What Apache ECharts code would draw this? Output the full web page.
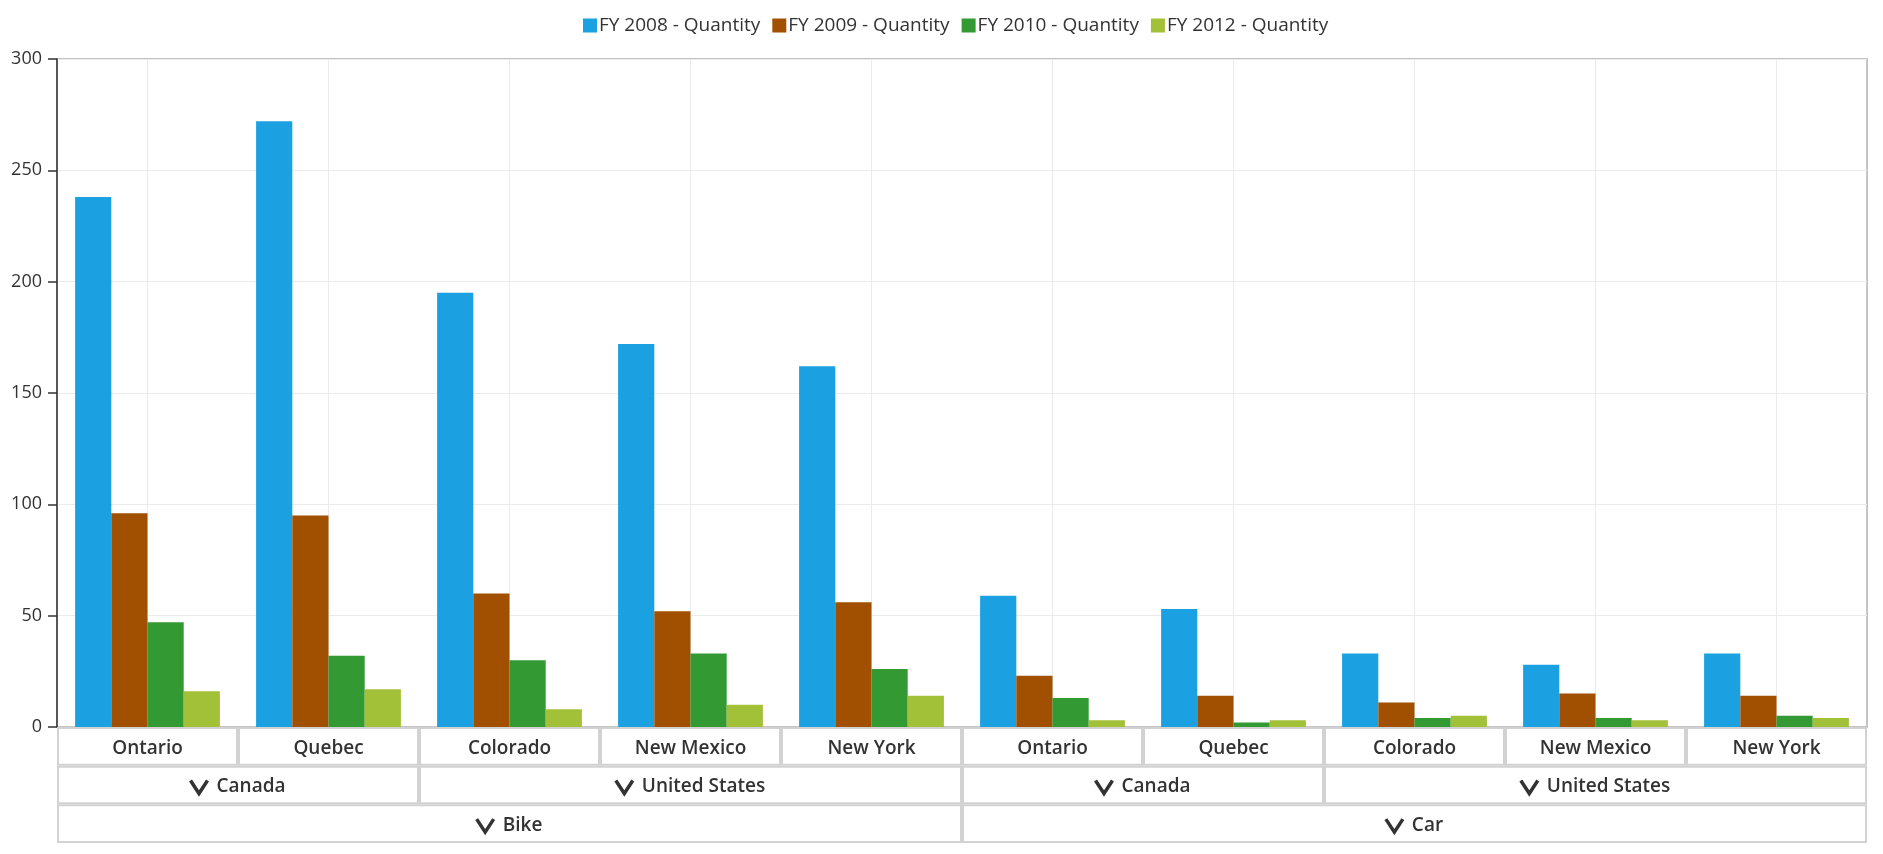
<!DOCTYPE html>
<html>
<head>
<meta charset="utf-8">
<title>Quantity by product, country and state</title>
<script src="https://cdn.jsdelivr.net/npm/echarts@6/dist/echarts.min.js"></script>
<style>
  html, body { margin: 0; padding: 0; background: #fff; }
  #chart { width: 1883px; height: 854px; }
</style>
</head>
<body>
<div id="chart"></div>
<script>
// 数据
const states = ['Ontario', 'Quebec', 'Colorado', 'New Mexico', 'New York',
                'Ontario', 'Quebec', 'Colorado', 'New Mexico', 'New York']
const countries = ['Canada', 'United States', 'Canada', 'United States']
const countrySpans = [2, 3, 2, 3]
const products = ['Bike', 'Car']
const productSpans = [5, 5]

const seriesNames = ['FY 2008 - Quantity', 'FY 2009 - Quantity', 'FY 2010 - Quantity', 'FY 2012 - Quantity']
const fy2008 = [238, 272, 195, 172, 162, 59, 53, 33, 28, 33]
const fy2009 = [96, 95, 60, 52, 56, 23, 14, 11, 15, 14]
const fy2010 = [47, 32, 30, 33, 26, 13, 2, 4, 4, 5]
const fy2012 = [16, 17, 8, 10, 14, 3, 3, 5, 3, 4]
const colors = ['#1BA1E2', '#A05000', '#339933', '#A2C139']

const yMin = 0
const yMax = 300
const yStep = 50

const FONT = '"Open Sans", "Noto Sans", sans-serif'

// 表头单元格
const cells = []
states.forEach((s, i) => cells.push({ x0: i, x1: i + 1, row: 0, label: s, chevron: false }))
let pos = 0
countries.forEach((c, i) => {
  cells.push({ x0: pos, x1: pos + countrySpans[i], row: 1, label: c, chevron: true })
  pos += countrySpans[i]
})
pos = 0
products.forEach((p, i) => {
  cells.push({ x0: pos, x1: pos + productSpans[i], row: 2, label: p, chevron: true })
  pos += productSpans[i]
})

// 唯一的类目键
const categoryKeys = states.map((s, i) => i + ':' + s)

const measureCtx = document.createElement('canvas').getContext('2d')
const headerFont = '600 19px ' + FONT
const textWidth = (t) => {
  measureCtx.font = headerFont
  return measureCtx.measureText(t).width
}

const renderCell = (params, api) => {
  const c = cells[params.dataIndex]
  const p0 = api.coord([c.x0, c.row])
  const p1 = api.coord([c.x1, c.row + 1])
  const x = p0[0], y = p0[1]
  const w = p1[0] - p0[0], h = p1[1] - p0[1]
  const cx = x + w / 2, cy = y + h / 2 + 2
  const children = [{
    type: 'rect',
    shape: { x: x + 1, y: y + 1, width: w - 2, height: h - 2 },
    style: { fill: '#fff', stroke: '#d2d2d2', lineWidth: 2 }
  }]
  if (c.chevron) {
    const chevW = 17, chevH = 13, gap = 9
    const tw = textWidth(c.label)
    const sx = cx - (chevW + gap + tw) / 2
    children.push({
      type: 'polyline',
      shape: { points: [[sx, cy - chevH / 2], [sx + chevW / 2, cy + chevH / 2], [sx + chevW, cy - chevH / 2]] },
      style: { stroke: '#333', lineWidth: 3.5, fill: null }
    })
    children.push({
      type: 'text',
      style: { text: c.label, x: sx + chevW + gap, y: cy, align: 'left', verticalAlign: 'middle',
               font: headerFont, fill: '#333' }
    })
  } else {
    children.push({
      type: 'text',
      style: { text: c.label, x: cx, y: cy, align: 'center', verticalAlign: 'middle',
               font: headerFont, fill: '#333' }
    })
  }
  return { type: 'group', children }
}

const chart = echarts.init(document.getElementById('chart'))

const option = {
  animation: false,
  color: colors,
  legend: {
    data: seriesNames,
    top: 11,
    left: 578,
    icon: 'rect',
    itemWidth: 14,
    itemHeight: 14,
    itemGap: 12,
    textStyle: { fontFamily: FONT, fontSize: 19, color: '#333', padding: [0, 0, 0, -3] }
  },
  grid: [
    { left: 57, right: 16, top: 59, bottom: 127, show: true, borderColor: '#c4c4c4', borderWidth: 2 },
    { left: 57, right: 16, top: 727, height: 116 }
  ],
  xAxis: [
    {
      type: 'category',
      gridIndex: 0,
      data: categoryKeys,
      axisLine: { show: false },
      axisTick: { show: false },
      axisLabel: { show: false }
    },
    {
      // 类目中心的竖向网格线
      type: 'value',
      gridIndex: 0,
      min: 0,
      max: states.length * 2,
      interval: 1,
      axisLine: { show: false },
      axisTick: { show: false },
      axisLabel: { show: false },
      splitLine: { show: true, lineStyle: { color: ['rgba(0,0,0,0)', '#ebebeb'], width: 1 } }
    },
    {
      type: 'value',
      gridIndex: 1,
      min: 0,
      max: states.length,
      show: false
    }
  ],
  yAxis: [
    {
      type: 'value',
      gridIndex: 0,
      min: yMin,
      max: yMax,
      interval: yStep,
      offset: 2,
      axisLine: { show: true, lineStyle: { color: '#333', width: 1.5 } },
      axisTick: { show: true, length: 9, lineStyle: { color: '#333', width: 1.5 } },
      axisLabel: { margin: 13, fontFamily: FONT, fontSize: 18, color: '#333' },
      splitLine: { lineStyle: { color: '#ebebeb', width: 1 } }
    },
    {
      type: 'value',
      gridIndex: 1,
      min: 0,
      max: 3,
      inverse: true,
      show: false
    }
  ],
  series: [
    ...[fy2008, fy2009, fy2010, fy2012].map((d, i) => ({
      name: seriesNames[i],
      type: 'bar',
      xAxisIndex: 0,
      yAxisIndex: 0,
      barGap: '0%',
      barCategoryGap: '20%',
      data: d
    })),
    {
      type: 'custom',
      xAxisIndex: 2,
      yAxisIndex: 1,
      clip: false,
      silent: true,
      renderItem: renderCell,
      encode: { x: [0, 1], y: 2 },
      data: cells.map(c => [c.x0, c.x1, c.row])
    }
  ]
}

chart.setOption(option)
window.addEventListener('resize', () => chart.resize())
</script>
</body>
</html>
